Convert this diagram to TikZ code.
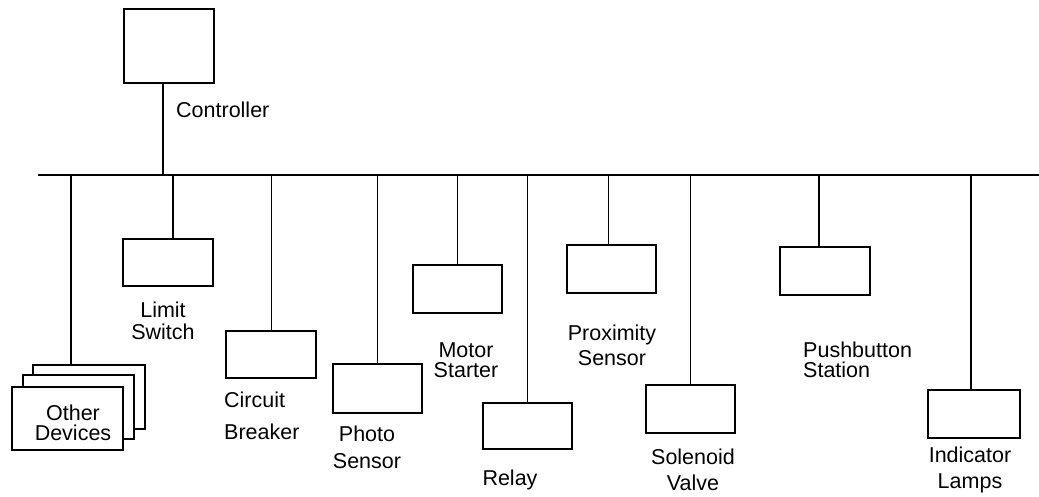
\documentclass[tikz,border=0pt]{standalone}
\usepackage{fontspec}
\setmainfont{Liberation Sans}
\begin{document}
\begin{tikzpicture}[x=1pt,y=-1pt,
  box/.style={draw,line width=1.8pt,fill=white,inner sep=0pt,minimum width=89pt,minimum height=48pt},
  lbl/.style={align=center,inner sep=0pt,font=\fontsize{21.5}{#1}\selectfont},
  lbl/.default=22,
  wire/.style={line width=1.8pt}]
\useasboundingbox (0,0) rectangle (1039,496);
\coordinate (busL) at (38,175); \coordinate (busR) at (1039,175);
\draw[wire] (busL) -- (busR);
\node[box,minimum width=90pt,minimum height=74pt] (ctrl) at (169,46) {};
\node[lbl,anchor=west] (ctrllbl) at (176,110) {Controller};
\draw[wire] ([xshift=-6pt]ctrl.south) -- ([xshift=-6pt]ctrl.south |- busL);
\node[box,minimum width=112pt,minimum height=64pt] (od3) at (89,397) {};
\node[box,minimum width=111pt,minimum height=64pt] (od2) at (78.5,407) {};
\node[box,minimum width=111pt,minimum height=63pt] (od1) at (67.5,418.5) {};
\node[lbl=20] (odlbl) at (73,423) {Other\\Devices};
\draw[wire] ([xshift=-18pt]od3.north) -- ([xshift=-18pt]od3.north |- busL);
\node[box,minimum width=90pt,minimum height=47pt] (ls) at (168,262.5) {};
\node[lbl] (lslbl) at (163,321) {Limit\\Switch};
\draw[wire] ([xshift=5pt]ls.north) -- ([xshift=5pt]ls.north |- busL);
\node[box,minimum width=90pt,minimum height=47pt] (cb) at (271,354.5) {};
\node[lbl=32,align=left,anchor=west] (cblbl) at (224,416) {Circuit\\Breaker};
\draw[line width=1pt] (cb.north) -- (cb.north |- busL);
\node[box,minimum height=49pt] (ps) at (377.5,388.5) {};
\node[lbl=27] (pslbl) at (367,447) {Photo\\Sensor};
\draw[wire] (ps.north) -- (ps.north |- busL);
\node[box] (ms) at (457.5,289) {};
\node[lbl=20] (mslbl) at (466,360) {Motor\\Starter};
\draw[wire] (ms.north) -- (ms.north |- busL);
\node[box,minimum height=46pt] (rl) at (527.5,426) {};
\node[lbl] (rllbl) at (510,480) {Relay};
\draw[wire] (rl.north) -- (rl.north |- busL);
\node[box] (px) at (611.5,269) {};
\node[lbl=25] (pxlbl) at (612,345) {Proximity\\Sensor};
\draw[wire] ([xshift=-3pt]px.north) -- ([xshift=-3pt]px.north |- busL);
\node[box] (sv) at (690.5,409) {};
\node[lbl=26] (svlbl) at (693,470) {Solenoid\\Valve};
\draw[wire] (sv.north) -- (sv.north |- busL);
\node[box,minimum width=90pt] (pb) at (825,271) {};
\node[lbl=20,align=left,anchor=west] (pblbl) at (803,360) {Pushbutton\\Station};
\draw[wire] ([xshift=-6pt]pb.north) -- ([xshift=-6pt]pb.north |- busL);
\node[box,minimum width=92pt] (il) at (974,414) {};
\node[lbl=26] (illbl) at (970,470) {Indicator\\Lamps};
\draw[wire] ([xshift=-3pt]il.north) -- ([xshift=-3pt]il.north |- busL);
\end{tikzpicture}
\end{document}
